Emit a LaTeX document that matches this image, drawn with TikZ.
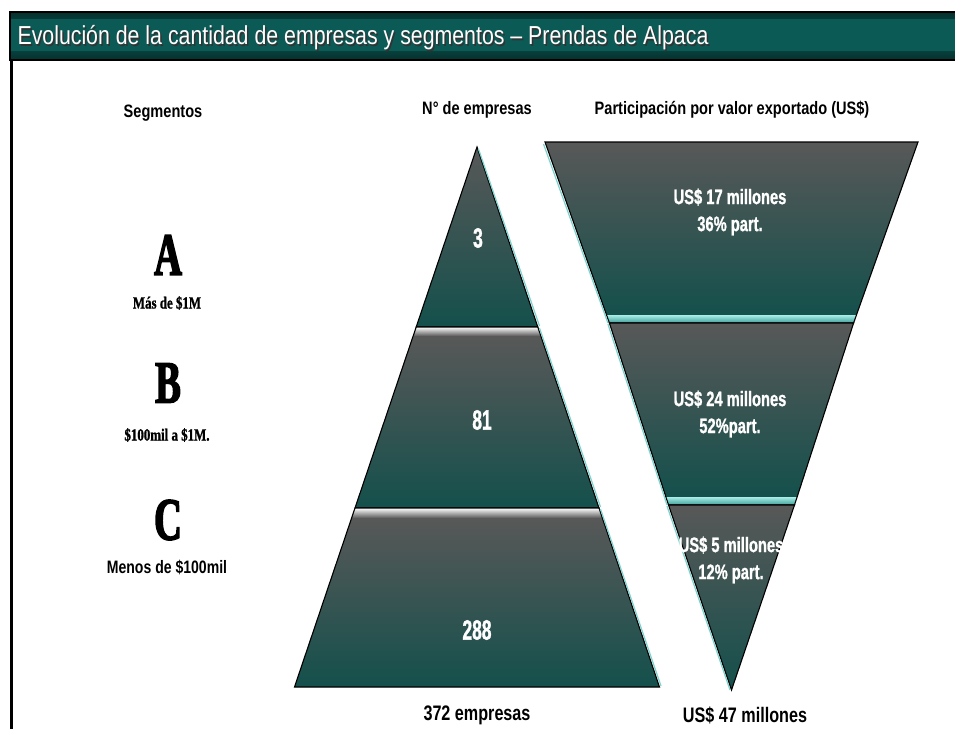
\documentclass[tikz,border=0pt]{standalone}
\usepackage{fontspec}
\setmainfont{Liberation Sans}
\newfontfamily\titlef[FakeStretch=0.82]{Liberation Sans}
\newfontfamily\hdrf[FakeStretch=0.81]{Liberation Sans}
\newfontfamily\numf[FakeStretch=0.62, BoldFeatures={FakeBold=1.2}]{Liberation Sans}
\newfontfamily\valf[FakeStretch=0.70, BoldFeatures={FakeBold=1}]{Liberation Sans}
\newfontfamily\totf[FakeStretch=0.77]{Liberation Sans}
\newfontfamily\nar[FakeStretch=0.78]{Liberation Sans}
\newfontfamily\bigser[FakeStretch=0.64, BoldFeatures={FakeBold=2.5}]{Liberation Serif}
\newfontfamily\smser[FakeStretch=0.76, BoldFeatures={FakeBold=1}]{Liberation Serif}
\definecolor{tealdk}{HTML}{14504C}
\definecolor{graytop}{HTML}{585858}
\definecolor{titlebg}{HTML}{0C5A56}
\definecolor{titledk}{HTML}{05302D}
\definecolor{edgecyan}{HTML}{7FD3CE}
\definecolor{barcyanA}{HTML}{A8EDE7}
\definecolor{barcyanB}{HTML}{3E9E98}
\tikzset{
  segshade/.style={top color=graytop, bottom color=tealdk},
  segline/.style={draw=black, line width=1.1pt, line join=miter},
  rightedge/.style={draw=edgecyan, line width=1.2pt},
  whitebar/.style={top color=white, bottom color=gray!70!black},
  cyanbar/.style={top color=barcyanA, bottom color=barcyanB},
  hdr/.style={font=\hdrf\bfseries\fontsize{18}{20}\selectfont, text=black},
  numlbl/.style={font=\numf\bfseries\fontsize{28}{30}\selectfont, text=white},
  inlbl/.style={font=\valf\bfseries\fontsize{21}{27}\selectfont, text=white, align=center},
  botlbl/.style={font=\totf\bfseries\fontsize{21}{23}\selectfont, text=black},
  bigletter/.style={font=\bigser\bfseries\fontsize{60}{60}\selectfont, text=black},
  serlbl/.style={font=\smser\bfseries\fontsize{17}{19}\selectfont, text=black},
  sanslbl/.style={font=\nar\bfseries\fontsize{18}{20}\selectfont, text=black}
}
\begin{document}
\begin{tikzpicture}[x=1pt,y=-1pt]
\useasboundingbox (0,0) rectangle (955,729);
\fill[white] (0,0) rectangle (955,729);
% title bar
\shade[top color=titledk, bottom color=titledk, middle color=titlebg] (10,12) rectangle (955,60);
\fill[titlebg] (10,19) rectangle (955,51);
\draw[black, line width=1.5pt] (955,12) -- (10,12) -- (10,60) -- (955,60);
\draw[black, line width=3pt] (11,60) -- (11,729);
\node[anchor=west, font=\titlef\fontsize{26}{28}\selectfont, text=black!80] (titleshadow) at (15.5,39.5) {Evolución de la cantidad de empresas y segmentos – Prendas de Alpaca};
\node[anchor=west, font=\titlef\fontsize{26}{28}\selectfont, text=white] (title) at (14,38) {Evolución de la cantidad de empresas y segmentos – Prendas de Alpaca};

% headers
\node[hdr] (hseg) at (163,113) {Segmentos};
\node[hdr] (hemp) at (477,110) {N° de empresas};
\node[hdr] (hpart) at (732,110) {Participación por valor exportado (US\$)};

% ---------- pyramid ----------
\shade[segshade] (477,147) -- (537.8,327) -- (416.2,327) -- cycle;
\draw[segline] (477,147) -- (537.8,327) -- (416.2,327) -- cycle;
\draw[rightedge] (478.5,149) -- (539.5,326);
\shade[segshade] (413.1,336) -- (540.9,336) -- (599,508) -- (355,508) -- cycle;
\shade[whitebar] (416.2,327) -- (537.8,327) -- (540.9,336) -- (413.1,336) -- cycle;
\draw[segline] (416.2,327) -- (537.8,327) -- (599,508) -- (355,508) -- cycle;
\draw[rightedge] (539.5,328) -- (600.5,507);
\shade[segshade] (351.6,518) -- (602.4,518) -- (659.5,687) -- (294.5,687) -- cycle;
\shade[whitebar] (355,508) -- (599,508) -- (602.4,518) -- (351.6,518) -- cycle;
\draw[segline] (355,508) -- (599,508) -- (659.5,687) -- (294.5,687) -- cycle;
\draw[rightedge] (600.5,509) -- (661,686);

% ---------- funnel ----------
\shade[segshade] (545,142) -- (918,142) -- (856.4,315) -- (606.6,315) -- cycle;
\shade[cyanbar] (606.6,315) -- (856.4,315) -- (853.6,323) -- (609.4,323) -- cycle;
\draw[segline] (545,142) -- (918,142) -- (853.6,323) -- (609.4,323) -- cycle;
\draw[rightedge] (543.5,144) -- (607.9,323);
\shade[segshade] (609.4,323) -- (853.6,323) -- (797.2,497) -- (665.8,497) -- cycle;
\shade[cyanbar] (665.8,497) -- (797.2,497) -- (794.5,505) -- (668.5,505) -- cycle;
\draw[segline] (609.4,323) -- (853.6,323) -- (794.5,505) -- (668.5,505) -- cycle;
\draw[rightedge] (607.9,324) -- (667,505);
\shade[segshade] (668.5,505) -- (794.5,505) -- (731.5,690) -- cycle;
\draw[segline] (668.5,505) -- (794.5,505) -- (731.5,690) -- cycle;
\draw[rightedge] (667,506) -- (730,690);

% ---------- labels in shapes ----------
\node[numlbl] (n3) at (478,238) {3};
\node[numlbl] (n81) at (482,420) {81};
\node[numlbl] (n288) at (477,630) {288};
\node[inlbl] (pA) at (730,212) {US\$ 17 millones\\36\% part.};
\node[inlbl] (pB) at (730,414) {US\$ 24 millones\\52\%part.};
\node[inlbl] (pC) at (731,560) {US\$ 5 millones\\12\% part.};

% totals
\node[botlbl] (tot1) at (477,715) {372 empresas};
\node[botlbl] (tot2) at (745,715) {US\$ 47 millones};

% segments column
\node[bigletter] (lA) at (168,255) {A};
\node[serlbl] (dA) at (167,303) {Más de \$1M};
\node[bigletter] (lB) at (168,383) {B};
\node[serlbl] (dB) at (167,435) {\$100mil a \$1M.};
\node[bigletter] (lC) at (168,520) {C};
\node[sanslbl] (dC) at (167,567) {Menos de \$100mil};
\end{tikzpicture}
\end{document}
